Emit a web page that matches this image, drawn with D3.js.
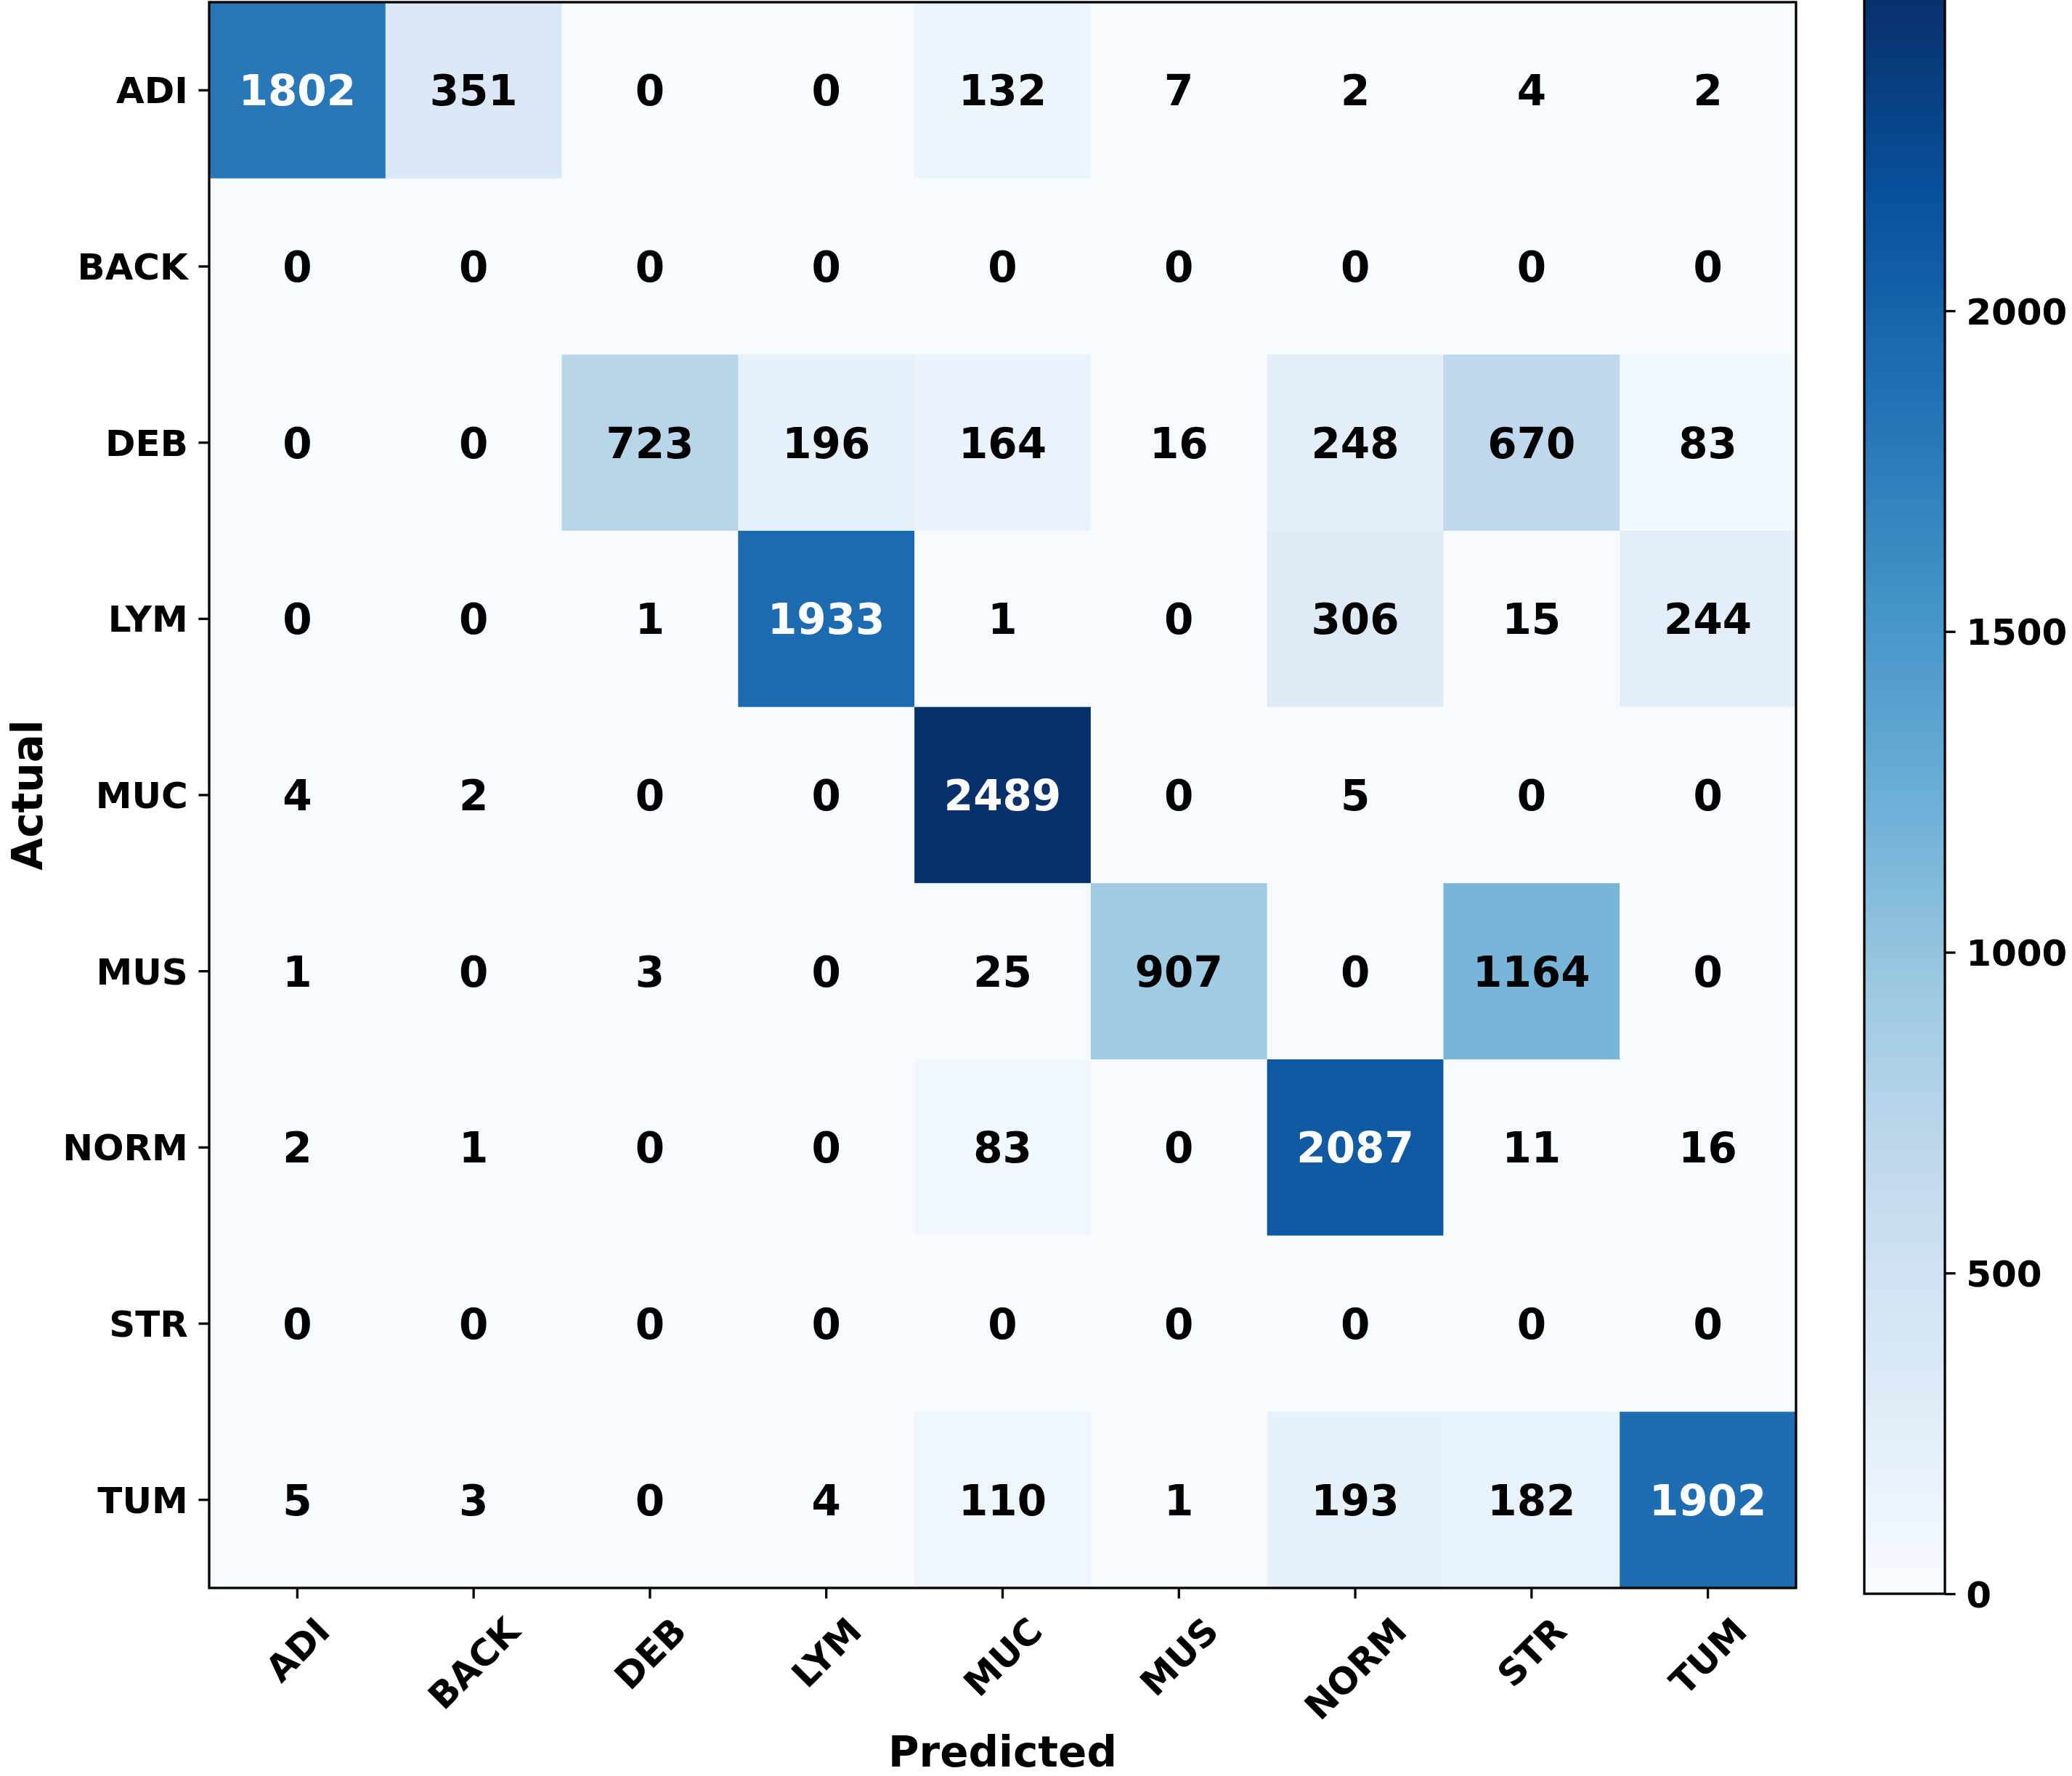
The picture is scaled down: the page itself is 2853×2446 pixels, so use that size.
<!DOCTYPE html>
<html lang="en">
<head>
<meta charset="UTF-8">
<title>Confusion matrix</title>
<script src="https://cdn.jsdelivr.net/npm/d3@7/dist/d3.min.js"></script>
<style>
  html, body { margin:0; padding:0; background:#fff; }
  svg text { font-family:"DejaVu Sans", sans-serif; font-weight:bold; }
</style>
</head>
<body>
<svg id="chart" width="2853" height="2446"></svg>
<script>
// class labels (same for actual and predicted)
var classes = ["ADI", "BACK", "DEB", "LYM", "MUC", "MUS", "NORM", "STR", "TUM"];

// one row of counts per actual class
var rowADI  = [1802, 351,   0,    0,  132,   7,    2,    4,    2];
var rowBACK = [   0,   0,   0,    0,    0,   0,    0,    0,    0];
var rowDEB  = [   0,   0, 723,  196,  164,  16,  248,  670,   83];
var rowLYM  = [   0,   0,   1, 1933,    1,   0,  306,   15,  244];
var rowMUC  = [   4,   2,   0,    0, 2489,   0,    5,    0,    0];
var rowMUS  = [   1,   0,   3,    0,   25, 907,    0, 1164,    0];
var rowNORM = [   2,   1,   0,    0,   83,   0, 2087,   11,   16];
var rowSTR  = [   0,   0,   0,    0,    0,   0,    0,    0,    0];
var rowTUM  = [   5,   3,   0,    4,  110,   1,  193,  182, 1902];

var colorbarTicks = [0, 500, 1000, 1500, 2000];

// matplotlib "Blues" stops
var bluesStops = ["#f7fbff", "#deebf7", "#c6dbef", "#9ecae1", "#6baed6",
                  "#4292c6", "#2171b5", "#08519c", "#08306b"];

var matrix = [rowADI, rowBACK, rowDEB, rowLYM, rowMUC, rowMUS, rowNORM, rowSTR, rowTUM];
var cells = [];
matrix.forEach(function(row, i) {
  row.forEach(function(v, j) {
    cells.push({actual: classes[i], predicted: classes[j], value: v});
  });
});

var vmax = d3.max(cells, d => d.value);
var thresh = vmax / 2;

var plot = {left: 288, right: 2473, top: 3, bottom: 2187};
var cbar = {left: 2567, right: 2678, bottom: 2195};
var tickLen = 14.6, tickPad = 14.6, lw = 3.3;

var svg = d3.select("#chart");

var x = d3.scaleBand().domain(classes).range([plot.left, plot.right]);
var y = d3.scaleBand().domain(classes).range([plot.top, plot.bottom]);

var color = d3.scaleLinear()
  .domain(d3.range(bluesStops.length).map(i => i * vmax / (bluesStops.length - 1)))
  .range(bluesStops)
  .interpolate(d3.interpolateRgb);

// cells
svg.append("g").selectAll("rect")
  .data(cells)
  .join("rect")
  .attr("x", d => x(d.predicted))
  .attr("y", d => y(d.actual))
  .attr("width", x.bandwidth() + 0.5)
  .attr("height", y.bandwidth() + 0.5)
  .attr("fill", d => color(d.value));

// numbers
svg.append("g").selectAll("text")
  .data(cells)
  .join("text")
  .attr("x", d => x(d.predicted) + x.bandwidth() / 2)
  .attr("y", d => y(d.actual) + y.bandwidth() / 2)
  .attr("dy", "0.36em")
  .attr("text-anchor", "middle")
  .attr("font-size", 58)
  .attr("fill", d => d.value > thresh ? "#fff" : "#000")
  .text(d => d.value);

// frame
svg.append("rect")
  .attr("x", plot.left).attr("y", plot.top)
  .attr("width", plot.right - plot.left).attr("height", plot.bottom - plot.top)
  .attr("fill", "none").attr("stroke", "#000").attr("stroke-width", lw);

// y axis
var yAxis = svg.append("g")
  .attr("transform", `translate(${plot.left},0)`)
  .call(d3.axisLeft(y).tickSize(tickLen).tickPadding(tickPad));
yAxis.select(".domain").remove();
yAxis.selectAll("line").attr("stroke", "#000").attr("stroke-width", lw);
yAxis.selectAll("text").attr("font-size", 50).attr("fill", "#000")
  .attr("font-family", null).attr("dy", "0.36em");

// x axis
var xAxis = svg.append("g")
  .attr("transform", `translate(0,${plot.bottom})`)
  .call(d3.axisBottom(x).tickSize(tickLen).tickPadding(tickPad));
xAxis.select(".domain").remove();
xAxis.selectAll("line").attr("stroke", "#000").attr("stroke-width", lw);
xAxis.selectAll("text")
  .attr("font-size", 50).attr("fill", "#000").attr("font-family", null)
  .attr("text-anchor", "middle")
  .attr("dy", "0.36em")
  .each(function() {
    // rotate 45° and keep the rotated box centred under the tick
    var t = d3.select(this);
    var w = this.getComputedTextLength();
    var h = 50 * 1.164;
    var off = (w + h) / (2 * Math.SQRT2);
    var y0 = tickLen + tickPad + off;
    t.attr("y", null)
     .attr("transform", `translate(0,${y0}) rotate(-45)`);
  });

// axis titles
svg.append("text")
  .attr("x", (plot.left + plot.right) / 2)
  .attr("y", 2433)
  .attr("text-anchor", "middle")
  .attr("font-size", 58)
  .text("Predicted");

svg.append("text")
  .attr("transform", `translate(58,${(plot.top + plot.bottom) / 2}) rotate(-90)`)
  .attr("text-anchor", "middle")
  .attr("font-size", 58)
  .text("Actual");

// colorbar
var cy = d3.scaleLinear().domain([0, 2000]).range([cbar.bottom, 428]);
var cTop = cy(vmax);

var grad = svg.append("defs").append("linearGradient")
  .attr("id", "blues")
  .attr("gradientUnits", "userSpaceOnUse")
  .attr("x1", 0).attr("x2", 0)
  .attr("y1", cy(0)).attr("y2", cTop);
bluesStops.forEach(function(c, i) {
  grad.append("stop")
    .attr("offset", i / (bluesStops.length - 1))
    .attr("stop-color", c);
});

svg.append("rect")
  .attr("x", cbar.left).attr("y", cTop)
  .attr("width", cbar.right - cbar.left).attr("height", cbar.bottom - cTop)
  .attr("fill", "url(#blues)")
  .attr("stroke", "#000").attr("stroke-width", lw);

var cAxis = svg.append("g")
  .attr("transform", `translate(${cbar.right},0)`)
  .call(d3.axisRight(cy).tickValues(colorbarTicks).tickFormat(d3.format("d"))
    .tickSize(tickLen).tickPadding(tickPad));
cAxis.select(".domain").remove();
cAxis.selectAll("line").attr("stroke", "#000").attr("stroke-width", lw);
cAxis.selectAll("text").attr("font-size", 50).attr("fill", "#000")
  .attr("font-family", null).attr("dy", "0.36em");
</script>
</body>
</html>
